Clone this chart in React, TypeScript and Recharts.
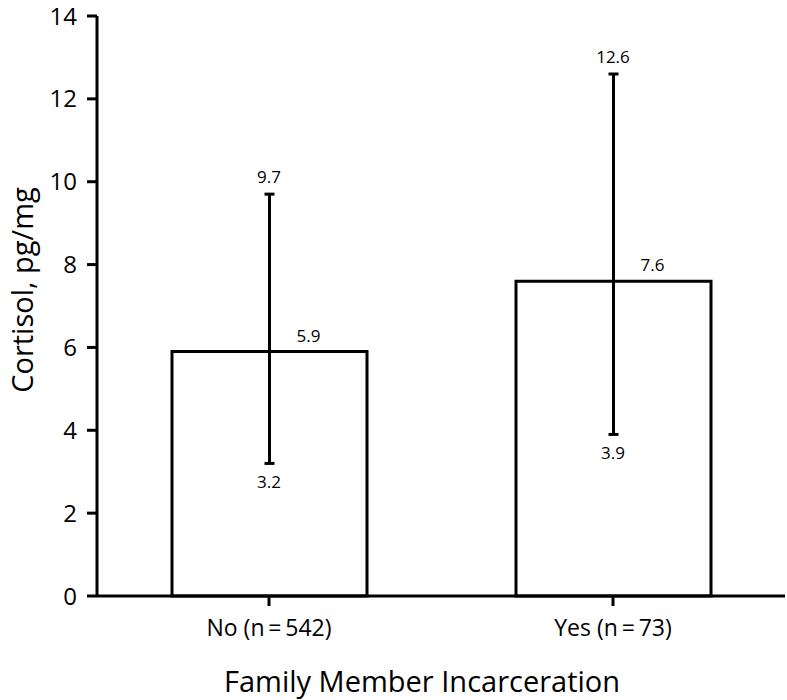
import { ComposedChart, Bar, Scatter, XAxis, YAxis, ErrorBar, LabelList } from 'recharts'

// group labels and cortisol values (pg/mg)
const categories = ['No (n\u2009=\u2009542)', 'Yes (n\u2009=\u200973)']
const means = [5.9, 7.6]
const lows = [3.2, 3.9]
const highs = [9.7, 12.6]
const yTicks = [0, 2, 4, 6, 8, 10, 12, 14]

const data = categories.map((name, i) => ({
  name,
  mean: means[i],
  low: lows[i],
  high: highs[i],
  err: [means[i] - lows[i], highs[i] - means[i]],
}))

const FONT = '"Open Sans", sans-serif'

function centerOf(props: any) {
  const vb = props.viewBox || {}
  const x = props.x ?? vb.x ?? 0
  const y = props.y ?? vb.y ?? 0
  const w = props.width ?? vb.width ?? 0
  const h = props.height ?? vb.height ?? 0
  return { cx: x + w / 2, cy: y + h / 2, top: y }
}

const MeanLabel = (props: any) => {
  const { cx, top } = centerOf(props)
  return (
    <text x={cx + 39} y={top - 10} textAnchor="middle" fontSize={17} fontFamily={FONT} fill="#000">
      {props.value}
    </text>
  )
}

const HighLabel = (props: any) => {
  const { cx, cy } = centerOf(props)
  return (
    <text x={cx} y={cy - 11} textAnchor="middle" fontSize={17} fontFamily={FONT} fill="#000">
      {props.value}
    </text>
  )
}

const LowLabel = (props: any) => {
  const { cx, cy } = centerOf(props)
  return (
    <text x={cx} y={cy + 25} textAnchor="middle" fontSize={17} fontFamily={FONT} fill="#000">
      {props.value}
    </text>
  )
}

const YTitle = (props: any) => {
  const vb = props.viewBox || { x: 0, y: 16, width: 97, height: 580 }
  const x = vb.x + 21
  const y = vb.y + vb.height / 2 - 16
  return (
    <text
      x={x}
      y={y}
      transform={`rotate(-90, ${x}, ${y})`}
      textAnchor="middle"
      dominantBaseline="central"
      fontSize={29}
      fontFamily={FONT}
      fill="#000"
    >
      Cortisol, pg/mg
    </text>
  )
}

export default function App() {
  return (
    <div style={{ width: 787, height: 700, background: '#fff' }}>
      <style>{'body{margin:0}'}</style>
      <ComposedChart
        width={787}
        height={700}
        data={data}
        margin={{ top: 16, right: 2, left: 0, bottom: 0 }}
      >
        <XAxis
          dataKey="name"
          height={104}
          tickSize={10}
          tickMargin={14}
          stroke="#000"
          strokeWidth={3}
          tick={{ fill: '#000', fontSize: 23, fontFamily: FONT }}
          label={{
            value: 'Family Member Incarceration',
            position: 'insideBottom',
            offset: 8,
            dx: -19,
            fontSize: 29,
            fontFamily: FONT,
            fill: '#000',
          }}
        />
        <YAxis
          width={97}
          domain={[0, 14]}
          ticks={yTicks}
          interval={0}
          tickSize={10}
          tickMargin={10}
          stroke="#000"
          strokeWidth={3}
          tick={{ fill: '#000', fontSize: 24, fontFamily: FONT }}
          label={<YTitle />}
        />
        <Bar
          dataKey="mean"
          barSize={195}
          fill="#fff"
          stroke="#000"
          strokeWidth={3}
          isAnimationActive={false}
        >
          <ErrorBar dataKey="err" width={5} stroke="#000" strokeWidth={3} />
          <LabelList dataKey="mean" content={<MeanLabel />} />
        </Bar>
        <Scatter dataKey="high" shape={() => <g />} isAnimationActive={false}>
          <LabelList dataKey="high" content={<HighLabel />} />
        </Scatter>
        <Scatter dataKey="low" shape={() => <g />} isAnimationActive={false}>
          <LabelList dataKey="low" content={<LowLabel />} />
        </Scatter>
      </ComposedChart>
    </div>
  )
}
